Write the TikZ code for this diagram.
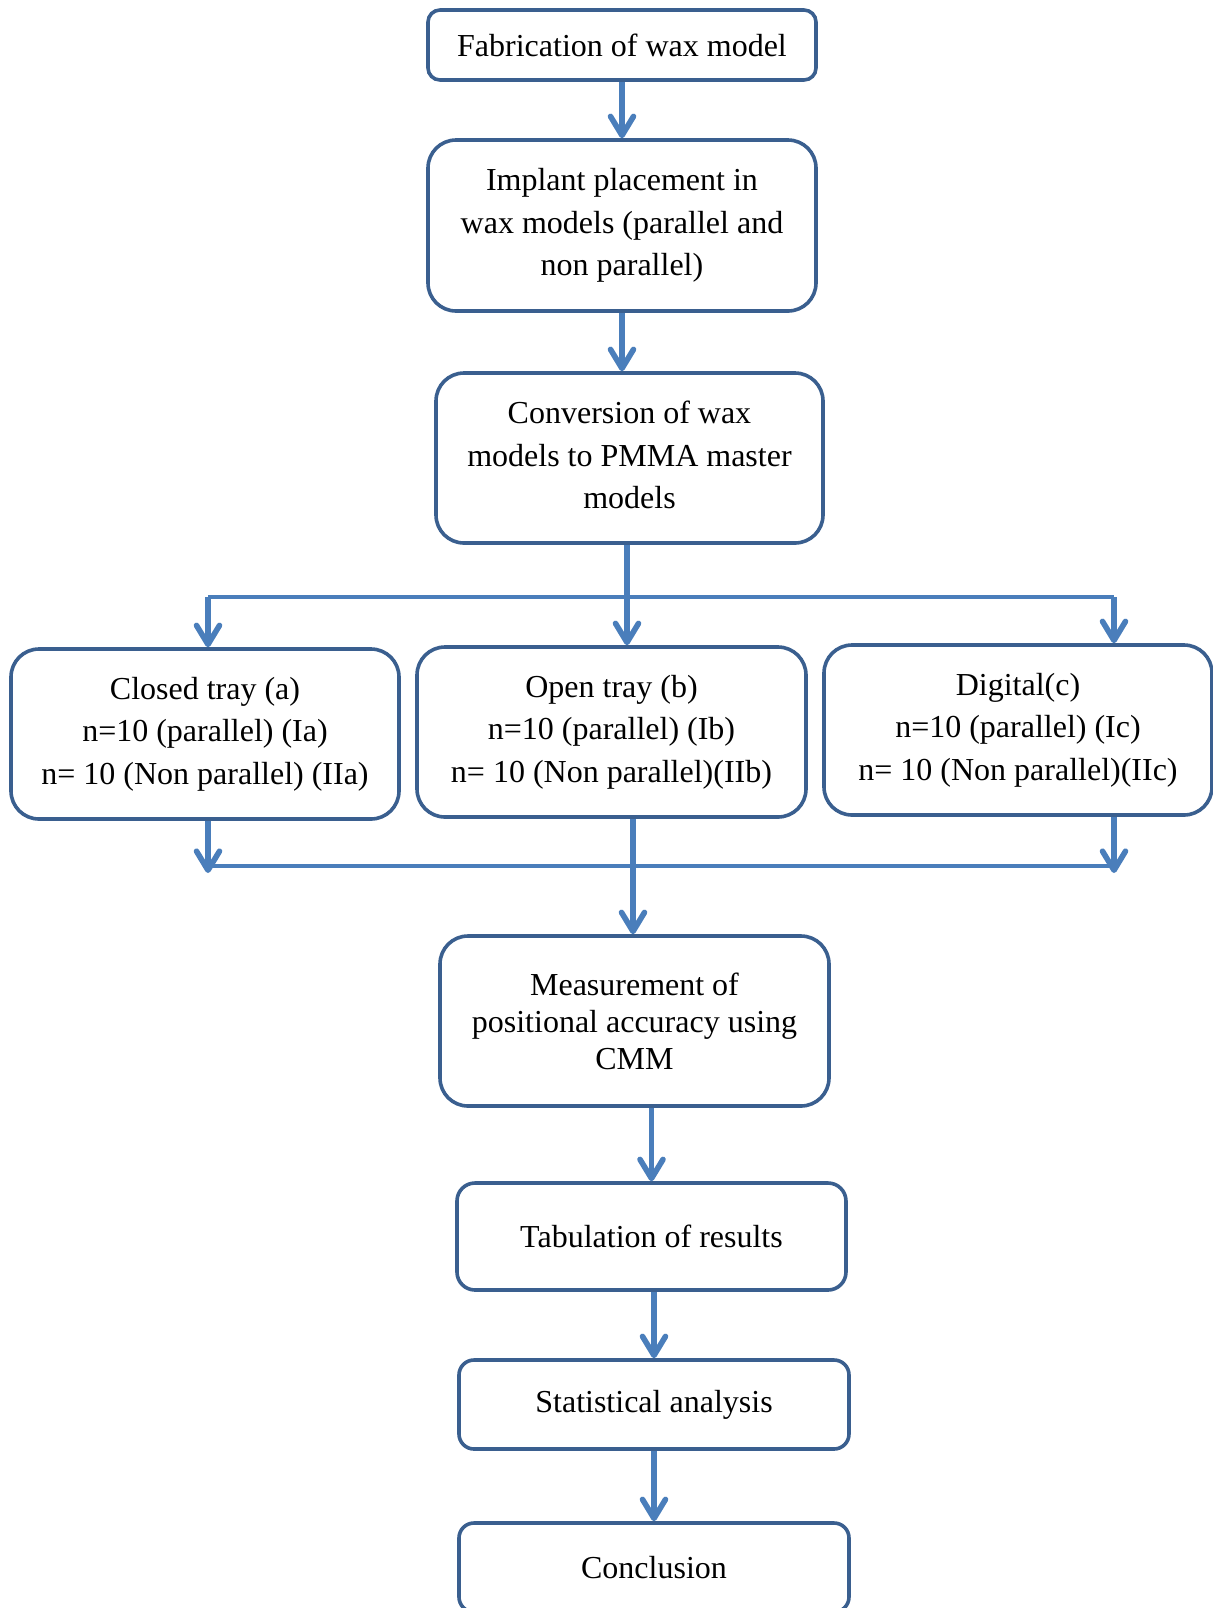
\documentclass[tikz,border=0pt]{standalone}
\usepackage{fontspec}
\setmainfont{Liberation Serif}
\usetikzlibrary{arrows.meta,calc}
\definecolor{boxblue}{HTML}{3A5F8F}
\definecolor{arrowblue}{HTML}{4A7EBB}
\begin{document}
\begin{tikzpicture}[x=0.5pt,y=-0.5pt,
  box/.style={draw=boxblue, line width=1.8pt, align=center, inner sep=0pt,
    font=\fontsize{16}{21.25}\selectfont, text=black},
  arr/.style={draw=arrowblue, line width=2.8pt,
    -{Straight Barb[length=9.5pt,width=11.5pt,line cap=round,line join=round]}},
  hline/.style={draw=arrowblue, line width=1.9pt}]
\useasboundingbox (0,0) rectangle (1213,1608);
\begin{scope}
\clip (0,0) rectangle (1213,1608);
\node[box, rounded corners=6pt, minimum width=194pt, minimum height=35pt] (b1) at (622,45) {Fabrication of wax model};
\node[box, rounded corners=14pt, minimum width=194pt, minimum height=85.5pt] (b2) at (622,225.5) {Implant placement in\\wax models (parallel and\\non parallel)};
\node[box, rounded corners=14pt, minimum width=193.5pt, minimum height=85pt, text depth=3pt] (b3) at (629.5,458) {Conversion of wax\\models to PMMA master\\models};
\node[box, rounded corners=14pt, minimum width=194pt, minimum height=85pt] (ba) at (205,734) {Closed tray (a)\\n=10 (parallel) (Ia)\\n= 10 (Non parallel) (IIa)};
\node[box, rounded corners=14pt, minimum width=194.5pt, minimum height=85pt] (bb) at (611.5,732) {Open tray (b)\\n=10 (parallel) (Ib)\\n= 10 (Non parallel)(IIb)};
\node[box, rounded corners=14pt, minimum width=194pt, minimum height=85pt] (bc) at (1018,730) {Digital(c)\\n=10 (parallel) (Ic)\\n= 10 (Non parallel)(IIc)};
\node[box, rounded corners=14pt, minimum width=194.5pt, minimum height=85pt,
  font=\fontsize{16}{18.5}\selectfont] (b5) at (634.5,1021) {Measurement of\\positional accuracy using\\CMM};
\node[box, rounded corners=9pt, minimum width=194.5pt, minimum height=53.5pt] (b6) at (651.5,1236.5) {Tabulation of results};
\node[box, rounded corners=7.5pt, minimum width=195pt, minimum height=44.5pt] (b7) at (654,1404.5) {Statistical analysis};
\node[box, rounded corners=7.5pt, minimum width=195pt, minimum height=44.5pt] (b8) at (654,1567.5) {Conclusion};

\coordinate (jA) at (208,597);
\coordinate (jC) at (1114,597);
\coordinate (mA) at (208,866);
\coordinate (mC) at (1114,866);
\coordinate (tA) at (208,873);
\coordinate (tC) at (1114,873);

\draw[arr] (b1.south) -- (b2.north);
\draw[arr] (b2.south) -- (b2.south |- b3.north);
\draw[hline] (jA) -- (jC);
\draw[arr] ($(b3.south)+(-2.5,0)$) -- ($(b3.south |- bb.north)+(-2.5,0)$);
\draw[arr] (jA) -- (ba.north -| jA);
\draw[arr] (jC) -- (bc.north -| jC);
\draw[hline] (mA) -- (mC);
\draw[arr] (ba.south -| mA) -- (tA);
\draw[arr] (bc.south -| mC) -- (tC);
\draw[arr] ($(bb.south -| b5.north)+(-1.5,0)$) -- ($(b5.north)+(-1.5,0)$);
\draw[arr] (b5.south -| b6.north) -- (b6.north);
\draw[arr] (b6.south -| b7.north) -- (b7.north);
\draw[arr] (b7.south) -- (b8.north);
\end{scope}
\end{tikzpicture}
\end{document}
